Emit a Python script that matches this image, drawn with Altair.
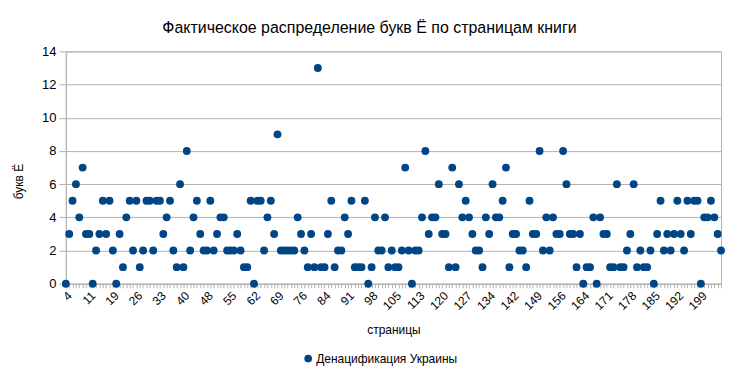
import altair as alt
import pandas as pd

# Pages of the book (category axis); a few pages are absent in the source chart
skipped_pages = [15, 44, 80, 109, 138, 160]
pages = [p for p in range(4, 206) if p not in skipped_pages]

label_pages = [4, 11, 19, 26, 33, 40, 48, 55, 62, 69, 76, 84, 91, 98, 105, 113,
               120, 127, 134, 142, 149, 156, 164, 171, 178, 185, 192, 199]

counts_a = [0, 3, 5, 6, 4, 7, 3, 3, 0, 2, 3, 5, 3, 5, 2, 0, 3, 1, 4, 5, 2, 5, 1, 2]
counts_b = [5, 5, 2, 5, 5, 3, 4, 5, 2, 1, 6, 1, 8, 2, 4, 5, 3, 2, 2, 5, 2, 3, 4, 4, 2]
counts_c = [2, 2, 3, 2, 1, 1, 5, 0, 5, 5, 2, 4, 5, 3, 9, 2, 2, 2, 2, 2, 4, 3, 2, 1, 3]
counts_d = [1, 13, 1, 1, 3, 5, 1, 2, 2, 4, 3, 5, 1, 1, 1, 5, 0, 1, 4, 2, 2, 4, 1, 2, 1]
counts_e = [1, 2, 7, 2, 0, 2, 2, 4, 8, 3, 4, 4, 6, 3, 3, 1, 7, 1, 6, 4, 5, 4, 3, 2, 2, 1]
counts_f = [4, 3, 6, 4, 4, 5, 7, 1, 3, 3, 2, 2, 1, 5, 3, 3, 8, 2, 4, 2, 4, 3, 3, 8, 6]
counts_g = [3, 3, 1, 3, 0, 1, 1, 4, 0, 4, 3, 3, 1, 1, 6, 1, 1, 2, 3, 6, 1, 2, 1, 1, 2]
counts_h = [0, 3, 5, 2, 3, 2, 3, 5, 3, 2, 5, 3, 5, 5, 0, 4, 4, 5, 4, 3, 2]

counts = counts_a + counts_b + counts_c + counts_d + counts_e + counts_f + counts_g + counts_h
series_name = "Денацификация Украины"

df = pd.DataFrame({"page": pages, "count": counts, "series": series_name})

label_test = " || ".join(f"datum.value == {p}" for p in label_pages)
font = "Liberation Sans"

chart = alt.Chart(df).mark_point(filled=True, opacity=1, size=62).encode(
    x=alt.X("page:O", sort=None,
            scale=alt.Scale(type="point", padding=0),
            axis=alt.Axis(title="страницы", labelExpr=f"({label_test}) ? datum.label : ''",
                          labelAngle=-45, labelAlign="right", labelBaseline="top",
                          labelOverlap=False, labelBound=False, labelPadding=2,
                          labelFont=font, labelFontSize=12, labelColor="#000000",
                          tickSize=4, tickColor="#b3b3b3", domainColor="#b3b3b3",
                          titleFont=font, titleFontSize=12, titleFontWeight="normal",
                          titleColor="#000000", titlePadding=13, grid=False)),
    y=alt.Y("count:Q", scale=alt.Scale(domain=[0, 14], nice=False),
            axis=alt.Axis(title="букв Ё", values=list(range(0, 15, 2)),
                          labelFont=font, labelFontSize=13, labelColor="#000000",
                          tickSize=7, tickColor="#b3b3b3", domainColor="#b3b3b3",
                          gridColor="#b3b3b3", labelPadding=3,
                          titleFont=font, titleFontSize=12, titleFontWeight="normal",
                          titleColor="#000000", titleX=-40, titleY=130)),
    color=alt.Color("series:N", scale=alt.Scale(range=["#004586"]),
                    legend=alt.Legend(title=None, orient="none", legendX=237, legendY=302,
                                      labelFont=font, labelFontSize=12, labelColor="#000000",
                                      symbolType="circle", symbolSize=60, symbolOpacity=1,
                                      labelOffset=2)),
).properties(
    width=657, height=233,
    padding={"left": 58, "top": 43, "right": 10, "bottom": 90},
    autosize=alt.AutoSizeParams(type="none"),
    title=alt.TitleParams("Фактическое распределение букв Ё по страницам книги",
                          font=font, fontSize=16, fontWeight="normal", color="#000000",
                          anchor="middle", dx=-24, offset=9),
).configure_view(stroke="#b3b3b3")

chart.save("out.html", embed_options={"renderer": "svg", "actions": False})
